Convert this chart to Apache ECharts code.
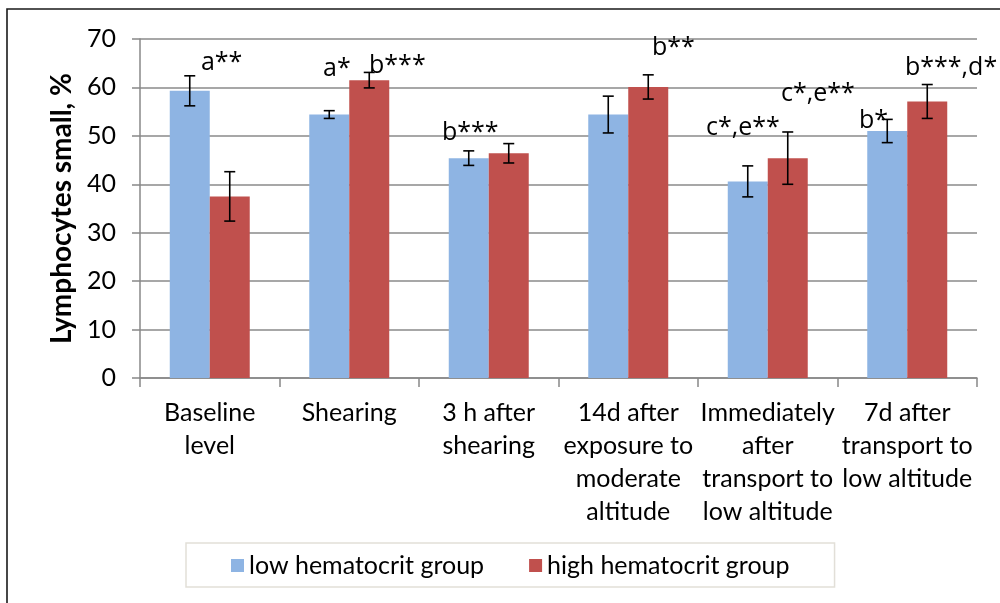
<!DOCTYPE html>
<html>
<head>
<meta charset="utf-8">
<script src="https://cdn.jsdelivr.net/npm/echarts@6/dist/echarts.min.js"></script>
<style>html,body{margin:0;padding:0;background:#fff;}#c{width:1000px;height:603px;}</style>
</head>
<body>
<div id="c"></div>
<script>
var categories = ["Baseline\nlevel", "Shearing", "3 h after\nshearing", "14d after\nexposure to\nmoderate\naltitude", "Immediately\nafter\ntransport to\nlow altitude", "7d after\ntransport to\nlow altitude"];
var seriesNames = ["low hematocrit group", "high hematocrit group"];
var lowValues = [59.3, 54.4, 45.4, 54.4, 40.6, 51.0];
var lowErrors = [3.1, 0.8, 1.5, 3.8, 3.2, 2.4];
var highValues = [37.5, 61.5, 46.4, 60.1, 45.4, 57.1];
var highErrors = [5.1, 1.6, 2.0, 2.5, 5.4, 3.5];
var yTicks = [0, 10, 20, 30, 40, 50, 60, 70];
var annoTexts = ["a**", "a*", "b***", "b***", "b**", "c*,e**", "c*,e**", "b*", "b***,d*"];
var annoCat = [0, 1, 1, 2, 3, 4, 4, 5, 5];
var annoShift = [-0.063, -0.188, 0.142, -0.335, 0.170, 0.095, -0.443, -0.346, -0.016];
var annoY = [65.0, 63.8, 64.4, 50.6, 68.1, 58.6, 51.6, 53.1, 64.0];

var FONT = 'Lato, "Open Sans", sans-serif';
var ANNO_FONT = '"Open Sans", Lato, sans-serif';
var BAR_RATIO = 0.2867;

function errData(vals, errs) {
  return vals.map(function (v, i) { return [i, v, errs[i]]; });
}
function errRender(side) {
  return function (params, api) {
    var idx = api.value(0), v = api.value(1), e = api.value(2);
    var band = api.size([1, 0])[0];
    var off = side * band * BAR_RATIO / 2;
    var top = api.coord([idx, v + e]);
    var bot = api.coord([idx, v - e]);
    var x = top[0] + off;
    var cap = 5.5;
    var st = { stroke: '#000', lineWidth: 1.6 };
    return {
      type: 'group',
      children: [
        { type: 'line', shape: { x1: x, y1: top[1], x2: x, y2: bot[1] }, style: st },
        { type: 'line', shape: { x1: x - cap, y1: top[1], x2: x + cap, y2: top[1] }, style: st },
        { type: 'line', shape: { x1: x - cap, y1: bot[1], x2: x + cap, y2: bot[1] }, style: st }
      ]
    };
  };
}
var annoData = annoTexts.map(function (t, i) { return [annoCat[i], annoY[i], annoShift[i]]; });

var chart = echarts.init(document.getElementById('c'), null, { renderer: 'canvas' });
chart.setOption({
  animation: false,
  backgroundColor: '#fff',
  textStyle: { fontFamily: FONT },
  graphic: [
    { type: 'rect', silent: true, shape: { x: 7, y: 9, width: 1100, height: 800 },
      style: { fill: 'none', stroke: '#1a1a1a', lineWidth: 1.6 } }
  ],
  grid: { left: 140, right: 23, top: 39, bottom: 225, containLabel: false },
  legend: {
    data: seriesNames,
    left: 186, top: 543,
    padding: [10, 45, 9, 45],
    itemGap: 45,
    itemWidth: 13, itemHeight: 13,
    icon: 'rect',
    borderColor: '#e2dfd8', borderWidth: 1.5,
    textStyle: { fontFamily: FONT, fontSize: 25, color: '#000' }
  },
  xAxis: {
    type: 'category',
    data: categories,
    axisLine: { lineStyle: { color: '#888', width: 1.5 } },
    axisTick: { show: true, length: 9, lineStyle: { color: '#888', width: 1.5 } },
    axisLabel: { interval: 0, color: '#000', fontFamily: FONT, fontSize: 25, lineHeight: 33, margin: 18 },
    splitLine: { show: false }
  },
  yAxis: {
    type: 'value',
    min: 0, max: 70, interval: 10,
    name: 'Lymphocytes small, %',
    nameLocation: 'middle',
    nameGap: 62,
    nameTextStyle: { fontFamily: FONT, fontWeight: 'bold', fontSize: 28, color: '#000' },
    axisLine: { show: true, lineStyle: { color: '#888', width: 1.5 } },
    axisTick: { show: true, length: 8, lineStyle: { color: '#888', width: 1.5 } },
    axisLabel: { color: '#000', fontFamily: FONT, fontSize: 25, margin: 24,
      formatter: function (v) { return yTicks.indexOf(v) >= 0 ? String(v) : ''; } },
    splitLine: { lineStyle: { color: '#8a8a8a', width: 1.5 } }
  },
  series: [
    { name: seriesNames[0], type: 'bar', data: lowValues, barWidth: (BAR_RATIO * 100) + '%', barGap: '0%',
      itemStyle: { color: '#8EB4E3' } },
    { name: seriesNames[1], type: 'bar', data: highValues, barWidth: (BAR_RATIO * 100) + '%', barGap: '0%',
      itemStyle: { color: '#C0504D' } },
    { type: 'custom', data: errData(lowValues, lowErrors), renderItem: errRender(-1), z: 5, silent: true },
    { type: 'custom', data: errData(highValues, highErrors), renderItem: errRender(1), z: 5, silent: true },
    { type: 'custom', data: annoData, z: 6, silent: true, clip: false,
      renderItem: function (params, api) {
        var p = api.coord([api.value(0), api.value(1)]);
        var band = api.size([1, 0])[0];
        return { type: 'text', x: p[0] + api.value(2) * band, y: p[1],
          style: { text: annoTexts[params.dataIndex], fill: '#000', font: '25px ' + ANNO_FONT,
            align: 'left', verticalAlign: 'middle' } };
      } }
  ]
});
</script>
</body>
</html>
